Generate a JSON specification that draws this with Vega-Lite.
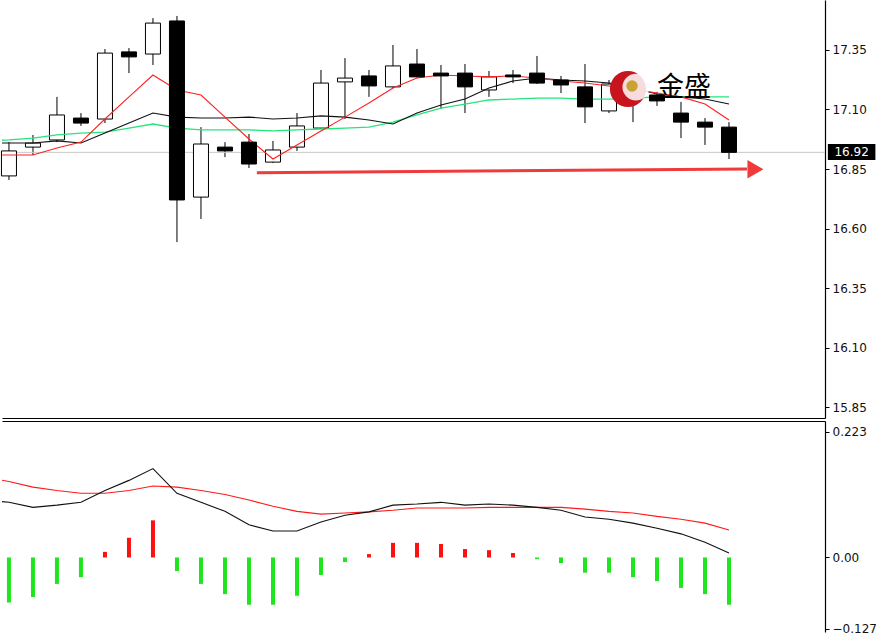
{
  "$schema": "https://vega.github.io/schema/vega-lite/v6.json",
  "padding": {"left": 0, "top": 0, "right": 0, "bottom": 0},
  "background": "#ffffff",
  "config": {"view": {"stroke": null}, "axis": {"labelFont": "DejaVu Sans", "labelFontSize": 12, "labelColor": "#111111", "domainColor": "#000000", "tickColor": "#000000", "grid": false}},
  "spacing": 3,
  "datasets": {
    "candles": [
      {"i": 0, "o": 16.821, "h": 16.963, "l": 16.804, "c": 16.926},
      {"i": 1, "o": 16.942, "h": 16.993, "l": 16.909, "c": 16.959},
      {"i": 2, "o": 16.972, "h": 17.153, "l": 16.963, "c": 17.077},
      {"i": 3, "o": 17.064, "h": 17.085, "l": 17.031, "c": 17.043},
      {"i": 4, "o": 17.060, "h": 17.354, "l": 17.043, "c": 17.337},
      {"i": 5, "o": 17.342, "h": 17.358, "l": 17.253, "c": 17.321},
      {"i": 6, "o": 17.333, "h": 17.484, "l": 17.287, "c": 17.463},
      {"i": 7, "o": 17.472, "h": 17.493, "l": 16.543, "c": 16.720},
      {"i": 8, "o": 16.732, "h": 17.026, "l": 16.640, "c": 16.955},
      {"i": 9, "o": 16.942, "h": 16.963, "l": 16.900, "c": 16.926},
      {"i": 10, "o": 16.963, "h": 16.997, "l": 16.854, "c": 16.871},
      {"i": 11, "o": 16.879, "h": 16.968, "l": 16.875, "c": 16.930},
      {"i": 12, "o": 16.942, "h": 17.085, "l": 16.926, "c": 17.031},
      {"i": 13, "o": 17.022, "h": 17.266, "l": 17.018, "c": 17.211},
      {"i": 14, "o": 17.216, "h": 17.316, "l": 17.060, "c": 17.232},
      {"i": 15, "o": 17.241, "h": 17.266, "l": 17.153, "c": 17.199},
      {"i": 16, "o": 17.195, "h": 17.371, "l": 17.190, "c": 17.283},
      {"i": 17, "o": 17.291, "h": 17.354, "l": 17.235, "c": 17.237},
      {"i": 18, "o": 17.253, "h": 17.287, "l": 17.102, "c": 17.241},
      {"i": 19, "o": 17.253, "h": 17.291, "l": 17.085, "c": 17.195},
      {"i": 20, "o": 17.182, "h": 17.262, "l": 17.153, "c": 17.237},
      {"i": 21, "o": 17.245, "h": 17.266, "l": 17.211, "c": 17.237},
      {"i": 22, "o": 17.253, "h": 17.325, "l": 17.207, "c": 17.211},
      {"i": 23, "o": 17.224, "h": 17.241, "l": 17.169, "c": 17.203},
      {"i": 24, "o": 17.195, "h": 17.291, "l": 17.043, "c": 17.111},
      {"i": 25, "o": 17.094, "h": 17.224, "l": 17.085, "c": 17.207},
      {"i": 26, "o": 17.174, "h": 17.232, "l": 17.047, "c": 17.148},
      {"i": 27, "o": 17.161, "h": 17.174, "l": 17.115, "c": 17.136},
      {"i": 28, "o": 17.085, "h": 17.132, "l": 16.980, "c": 17.047},
      {"i": 29, "o": 17.047, "h": 17.064, "l": 16.951, "c": 17.026},
      {"i": 30, "o": 17.026, "h": 17.047, "l": 16.892, "c": 16.920}
    ],
    "ma": [
      {"i": -1, "r": 16.909, "k": 16.959, "g": 16.968},
      {"i": 0, "r": 16.909, "k": 16.959, "g": 16.972},
      {"i": 1, "r": 16.909, "k": 16.959, "g": 16.980},
      {"i": 2, "r": 16.938, "k": 16.968, "g": 16.993},
      {"i": 3, "r": 16.963, "k": 16.959, "g": 17.001},
      {"i": 4, "r": 17.060, "k": 17.001, "g": 17.005},
      {"i": 5, "r": 17.153, "k": 17.043, "g": 17.022},
      {"i": 6, "r": 17.245, "k": 17.085, "g": 17.039},
      {"i": 7, "r": 17.182, "k": 17.068, "g": 17.022},
      {"i": 8, "r": 17.161, "k": 17.064, "g": 17.014},
      {"i": 9, "r": 17.068, "k": 17.064, "g": 17.014},
      {"i": 10, "r": 16.976, "k": 17.068, "g": 17.014},
      {"i": 11, "r": 16.892, "k": 17.060, "g": 17.010},
      {"i": 12, "r": 16.951, "k": 17.064, "g": 17.014},
      {"i": 13, "r": 17.010, "k": 17.073, "g": 17.018},
      {"i": 14, "r": 17.068, "k": 17.068, "g": 17.022},
      {"i": 15, "r": 17.127, "k": 17.056, "g": 17.026},
      {"i": 16, "r": 17.190, "k": 17.039, "g": 17.047},
      {"i": 17, "r": 17.232, "k": 17.085, "g": 17.077},
      {"i": 18, "r": 17.245, "k": 17.119, "g": 17.106},
      {"i": 19, "r": 17.241, "k": 17.144, "g": 17.123},
      {"i": 20, "r": 17.237, "k": 17.190, "g": 17.140},
      {"i": 21, "r": 17.241, "k": 17.220, "g": 17.144},
      {"i": 22, "r": 17.232, "k": 17.232, "g": 17.148},
      {"i": 23, "r": 17.220, "k": 17.224, "g": 17.148},
      {"i": 24, "r": 17.211, "k": 17.220, "g": 17.144},
      {"i": 25, "r": 17.199, "k": 17.211, "g": 17.144},
      {"i": 26, "r": 17.186, "k": 17.190, "g": 17.148},
      {"i": 27, "r": 17.169, "k": 17.165, "g": 17.153},
      {"i": 28, "r": 17.153, "k": 17.153, "g": 17.153},
      {"i": 29, "r": 17.123, "k": 17.144, "g": 17.153},
      {"i": 30, "r": 17.056, "k": 17.123, "g": 17.153}
    ],
    "macd": [
      {"i": -1, "hist": null, "m": 0.102, "s": 0.143},
      {"i": 0, "hist": -0.080, "m": 0.098, "s": 0.135},
      {"i": 1, "hist": -0.070, "m": 0.089, "s": 0.125},
      {"i": 2, "hist": -0.047, "m": 0.093, "s": 0.119},
      {"i": 3, "hist": -0.035, "m": 0.098, "s": 0.114},
      {"i": 4, "hist": 0.010, "m": 0.119, "s": 0.114},
      {"i": 5, "hist": 0.035, "m": 0.137, "s": 0.119},
      {"i": 6, "hist": 0.066, "m": 0.158, "s": 0.127},
      {"i": 7, "hist": -0.024, "m": 0.114, "s": 0.125},
      {"i": 8, "hist": -0.047, "m": 0.098, "s": 0.119},
      {"i": 9, "hist": -0.065, "m": 0.082, "s": 0.112},
      {"i": 10, "hist": -0.084, "m": 0.058, "s": 0.102},
      {"i": 11, "hist": -0.084, "m": 0.047, "s": 0.091},
      {"i": 12, "hist": -0.068, "m": 0.047, "s": 0.082},
      {"i": 13, "hist": -0.031, "m": 0.063, "s": 0.077},
      {"i": 14, "hist": -0.008, "m": 0.075, "s": 0.079},
      {"i": 15, "hist": 0.006, "m": 0.081, "s": 0.081},
      {"i": 16, "hist": 0.026, "m": 0.093, "s": 0.084},
      {"i": 17, "hist": 0.026, "m": 0.095, "s": 0.088},
      {"i": 18, "hist": 0.024, "m": 0.098, "s": 0.088},
      {"i": 19, "hist": 0.015, "m": 0.093, "s": 0.088},
      {"i": 20, "hist": 0.013, "m": 0.095, "s": 0.089},
      {"i": 21, "hist": 0.008, "m": 0.093, "s": 0.089},
      {"i": 22, "hist": -0.003, "m": 0.089, "s": 0.089},
      {"i": 23, "hist": -0.010, "m": 0.084, "s": 0.089},
      {"i": 24, "hist": -0.027, "m": 0.072, "s": 0.086},
      {"i": 25, "hist": -0.027, "m": 0.068, "s": 0.082},
      {"i": 26, "hist": -0.035, "m": 0.061, "s": 0.079},
      {"i": 27, "hist": -0.042, "m": 0.052, "s": 0.073},
      {"i": 28, "hist": -0.054, "m": 0.042, "s": 0.068},
      {"i": 29, "hist": -0.065, "m": 0.027, "s": 0.061},
      {"i": 30, "hist": -0.084, "m": 0.008, "s": 0.049}
    ],
    "arrow": [
      {"i": 10.33, "p": 16.834},
      {"i": 30.75, "p": 16.850}
    ],
    "bid": [{"p": 16.92, "t": "16.92", "i": 35.11, "i1": 34.12, "i2": 36.1, "p1": 16.955, "p2": 16.888}],
    "head": [{"i": 31.1, "p": 16.849}],
    "logoRed": [{"i": 25.79, "p": 17.186}],
    "logoWhite": [{"i": 26.12, "p": 17.194}],
    "logoGold": [{"i": 25.96, "p": 17.199}],
    "brand": [{"i": 28.13, "p": 17.190, "t": "金盛"}]
  },
  "vconcat": [
    {
      "width": 823,
      "height": 418,
      "layer": [
        {
          "data": {"name": "candles"},
          "mark": {"type": "rule", "color": "#000000", "strokeWidth": 1},
          "encoding": {
            "x": {"field": "i", "type": "quantitative", "title": null, "scale": {"domain": [-0.29, 34.0], "nice": false, "zero": false, "padding": 0},
              "axis": {"orient": "bottom", "labels": false, "ticks": false, "domain": true, "domainWidth": 1.2, "title": null}},
            "y": {"field": "l", "type": "quantitative", "title": null, "scale": {"domain": [15.804, 17.56], "nice": false, "zero": false, "padding": 0},
              "axis": {"orient": "right", "values": [15.85, 16.1, 16.35, 16.6, 16.85, 17.1, 17.35], "format": ".2f", "tickSize": 4, "labelPadding": 3, "labelOverlap": false, "labelFlush": false, "domain": true, "domainWidth": 1.2, "title": null}},
            "y2": {"field": "h"}
          }
        },
        {
          "data": {"name": "bid"},
          "mark": {"type": "rule", "color": "#c8c8c8", "strokeWidth": 1},
          "encoding": {
            "y": {"field": "p", "type": "quantitative", "title": null}
          }
        },
        {
          "data": {"name": "candles"},
          "transform": [{"filter": "datum.c >= datum.o"}],
          "mark": {"type": "bar", "size": 15, "fill": "#ffffff", "stroke": "#000000", "strokeWidth": 1},
          "encoding": {
            "x": {"field": "i", "type": "quantitative", "title": null},
            "y": {"field": "o", "type": "quantitative", "title": null},
            "y2": {"field": "c"}
          }
        },
        {
          "data": {"name": "ma"},
          "mark": {"type": "line", "color": "#22e67c", "strokeWidth": 1.3, "clip": true},
          "encoding": {
            "x": {"field": "i", "type": "quantitative", "title": null},
            "y": {"field": "g", "type": "quantitative", "title": null}
          }
        },
        {
          "data": {"name": "ma"},
          "mark": {"type": "line", "color": "#111111", "strokeWidth": 1.1, "clip": true},
          "encoding": {
            "x": {"field": "i", "type": "quantitative", "title": null},
            "y": {"field": "k", "type": "quantitative", "title": null}
          }
        },
        {
          "data": {"name": "ma"},
          "mark": {"type": "line", "color": "#ff2020", "strokeWidth": 1.1, "clip": true},
          "encoding": {
            "x": {"field": "i", "type": "quantitative", "title": null},
            "y": {"field": "r", "type": "quantitative", "title": null}
          }
        },
        {
          "data": {"name": "candles"},
          "transform": [{"filter": "datum.c < datum.o"}],
          "mark": {"type": "bar", "size": 15, "fill": "#000000", "stroke": "#000000", "strokeWidth": 1},
          "encoding": {
            "x": {"field": "i", "type": "quantitative", "title": null},
            "y": {"field": "o", "type": "quantitative", "title": null},
            "y2": {"field": "c"}
          }
        },
        {
          "data": {"name": "arrow"},
          "mark": {"type": "line", "color": "#ef3b3b", "strokeWidth": 3},
          "encoding": {
            "x": {"field": "i", "type": "quantitative", "title": null},
            "y": {"field": "p", "type": "quantitative", "title": null}
          }
        },
        {
          "data": {"name": "head"},
          "mark": {"type": "point", "shape": "triangle-right", "filled": true, "color": "#ef3b3b", "opacity": 1, "size": 340},
          "encoding": {
            "x": {"field": "i", "type": "quantitative", "title": null},
            "y": {"field": "p", "type": "quantitative", "title": null}
          }
        },
        {
          "data": {"name": "logoRed"},
          "mark": {"type": "point", "shape": "circle", "filled": true, "color": "#c8141e", "opacity": 1, "size": 1300},
          "encoding": {
            "x": {"field": "i", "type": "quantitative", "title": null},
            "y": {"field": "p", "type": "quantitative", "title": null}
          }
        },
        {
          "data": {"name": "logoWhite"},
          "mark": {"type": "point", "shape": "circle", "filled": true, "color": "#ffffff", "opacity": 0.85, "size": 720},
          "encoding": {
            "x": {"field": "i", "type": "quantitative", "title": null},
            "y": {"field": "p", "type": "quantitative", "title": null}
          }
        },
        {
          "data": {"name": "logoGold"},
          "mark": {"type": "point", "shape": "circle", "filled": true, "color": "#c9a233", "opacity": 1, "size": 130},
          "encoding": {
            "x": {"field": "i", "type": "quantitative", "title": null},
            "y": {"field": "p", "type": "quantitative", "title": null}
          }
        },
        {
          "data": {"name": "brand"},
          "mark": {"type": "text", "font": "Noto Sans CJK SC", "fontSize": 27, "color": "#000000", "align": "center", "baseline": "middle"},
          "encoding": {
            "x": {"field": "i", "type": "quantitative", "title": null},
            "y": {"field": "p", "type": "quantitative", "title": null},
            "text": {"field": "t"}
          }
        },
        {
          "data": {"name": "bid"},
          "mark": {"type": "rect", "color": "#000000"},
          "encoding": {
            "x": {"field": "i1", "type": "quantitative", "title": null},
            "x2": {"field": "i2"},
            "y": {"field": "p1", "type": "quantitative", "title": null},
            "y2": {"field": "p2"}
          }
        },
        {
          "data": {"name": "bid"},
          "mark": {"type": "text", "font": "DejaVu Sans", "fontSize": 12, "color": "#ffffff", "align": "center", "baseline": "middle"},
          "encoding": {
            "x": {"field": "i", "type": "quantitative", "title": null},
            "y": {"field": "p", "type": "quantitative", "title": null},
            "text": {"field": "t"}
          }
        }
      ]
    },
    {
      "width": 823,
      "height": 211,
      "data": {"name": "macd"},
      "layer": [
        {
          "mark": {"type": "bar", "size": 4},
          "encoding": {
            "x": {"field": "i", "type": "quantitative", "title": null, "scale": {"domain": [-0.29, 34.0], "nice": false, "zero": false, "padding": 0},
              "axis": {"orient": "top", "labels": false, "ticks": false, "domain": true, "domainWidth": 1.2, "title": null}},
            "y": {"field": "hist", "type": "quantitative", "title": null, "scale": {"domain": [-0.1324, 0.2425], "nice": false, "zero": false, "padding": 0},
              "axis": {"orient": "right", "values": [-0.127, 0, 0.223], "labelExpr": "datum.value == 0 ? '0.00' : format(datum.value, '.3f')", "tickSize": 4, "labelPadding": 3, "labelOverlap": false, "labelFlush": false, "domain": true, "domainWidth": 1.2, "title": null}},
            "y2": {"datum": 0},
            "color": {"condition": {"test": "datum.hist > 0", "value": "#ff1010"}, "value": "#1ee61e"}
          }
        },
        {
          "mark": {"type": "line", "color": "#ff1a1a", "strokeWidth": 1.1, "clip": true},
          "encoding": {
            "x": {"field": "i", "type": "quantitative", "title": null},
            "y": {"field": "s", "type": "quantitative", "title": null}
          }
        },
        {
          "mark": {"type": "line", "color": "#111111", "strokeWidth": 1.1, "clip": true},
          "encoding": {
            "x": {"field": "i", "type": "quantitative", "title": null},
            "y": {"field": "m", "type": "quantitative", "title": null}
          }
        }
      ]
    }
  ]
}
